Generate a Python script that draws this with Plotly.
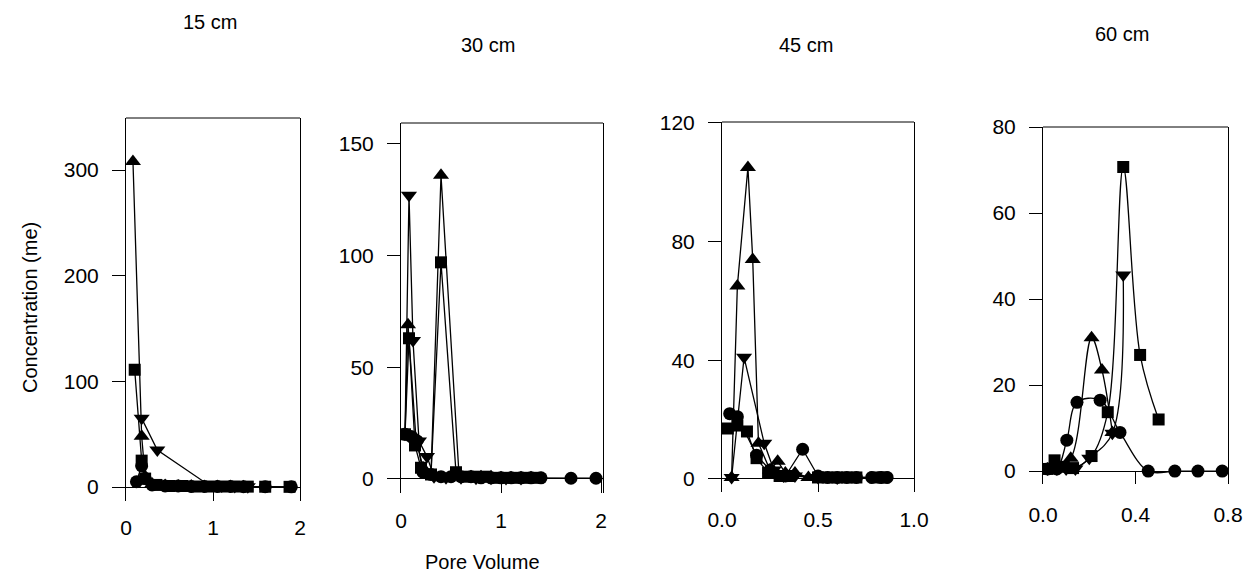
import plotly.graph_objects as go

# ---- datos (Pore Volume vs Concentration) ----
titulos = ['15 cm', '30 cm', '45 cm', '60 cm']

# 15 cm
p1_circ_x = [0.12, 0.18, 0.22, 0.3, 0.45, 0.6, 0.75, 0.9, 1.05, 1.2, 1.35, 1.6, 1.9]
p1_circ_y = [5, 20, 8, 2, 1, 1, 0.5, 0.5, 0.5, 0.5, 0.3, 0.3, 0.2]
p1_cuad_x = [0.1, 0.18, 0.22, 0.35, 0.5, 0.65, 0.8, 0.95, 1.1, 1.25, 1.4, 1.6, 1.88]
p1_cuad_y = [111, 25, 8, 2, 1, 1, 0.5, 0.5, 0.5, 0.5, 0.4, 0.3, 0.2]
p1_tri_x = [0.08, 0.18, 0.22, 0.3, 0.45, 0.6, 0.75, 0.9, 1.05, 1.2, 1.35]
p1_tri_y = [308, 48, 10, 3, 1.5, 1, 1, 0.5, 0.5, 0.5, 0.3]
p1_inv_x = [0.18, 0.36, 0.95, 1.1, 1.25, 1.4]
p1_inv_y = [65, 35, 2, 1, 0.5, 0.3]

# 30 cm
p2_circ_x = [0.04, 0.1, 0.16, 0.22, 0.3, 0.4, 0.5, 0.6, 0.7, 0.8, 0.9, 1.0, 1.1, 1.2, 1.3, 1.4, 1.7, 1.95]
p2_circ_y = [20, 19, 17, 3, 2, 1, 1, 1, 1, 0.5, 0.5, 0.5, 0.5, 0.5, 0.5, 0.5, 0.3, 0.3]
p2_cuad_x = [0.04, 0.08, 0.14, 0.2, 0.3, 0.4, 0.55, 0.65, 0.75, 0.85, 0.95, 1.05, 1.15, 1.25, 1.35]
p2_cuad_y = [20, 63, 15, 5, 2, 97, 3, 1, 1, 1, 0.5, 0.5, 0.5, 0.5, 0.5]
p2_tri_x = [0.04, 0.07, 0.15, 0.22, 0.3, 0.4, 0.58, 0.7, 0.8, 0.9, 1.0, 1.1, 1.2, 1.3]
p2_tri_y = [20, 69, 18, 5, 2, 136, 2, 1, 1, 1, 0.5, 0.5, 0.5, 0.5]
p2_inv_x = [0.04, 0.08, 0.12, 0.18, 0.26, 0.33, 0.45, 0.6, 0.75, 0.9, 1.05, 1.2]
p2_inv_y = [20, 127, 62, 17, 10, 1, 0.5, 0.5, 0.3, 0.3, 0.2, 0.2]

# 45 cm
p3_circ_x = [0.04, 0.08, 0.18, 0.25, 0.33, 0.42, 0.5, 0.55, 0.6, 0.65, 0.7, 0.78, 0.83, 0.86]
p3_circ_y = [22, 21, 8, 3, 1, 10, 1, 0.5, 0.5, 0.5, 0.5, 0.5, 0.5, 0.5]
p3_cuad_x = [0.03, 0.08, 0.13, 0.18, 0.24, 0.3, 0.35, 0.5, 0.55, 0.6, 0.65, 0.7, 0.8, 0.84]
p3_cuad_y = [17, 18, 16, 7, 2, 1, 1, 0.5, 0.5, 0.5, 0.5, 0.5, 0.5, 0.5]
p3_tri_x = [0.05, 0.08, 0.135, 0.16, 0.19, 0.25, 0.29, 0.33, 0.38, 0.45, 0.55]
p3_tri_y = [0.5, 65, 105, 74, 12, 3, 6, 2, 2, 0.5, 0.3]
p3_inv_x = [0.05, 0.115, 0.22, 0.27, 0.32, 0.38, 0.5, 0.6]
p3_inv_y = [0.5, 41, 12, 3, 1, 1, 0.5, 0.3]

# 60 cm
p4_circ_x = [0.02, 0.06, 0.103, 0.147, 0.247, 0.333, 0.455, 0.57, 0.67, 0.775]
p4_circ_y = [0.5, 0.5, 7.2, 16, 16.5, 9, 0, 0, 0, 0]
p4_cuad_x = [0.02, 0.05, 0.09, 0.13, 0.21, 0.28, 0.347, 0.42, 0.5]
p4_cuad_y = [0.5, 2.5, 1, 0.7, 3.5, 13.7, 70.7, 27, 12]
p4_tri_x = [0.02, 0.06, 0.12, 0.21, 0.255, 0.3]
p4_tri_y = [0.5, 1, 3, 31, 23.5, 9]
p4_inv_x = [0.02, 0.06, 0.1, 0.14, 0.2, 0.3, 0.347]
p4_inv_y = [0.5, 0.5, 0.5, 0.5, 3, 8.8, 45.6]

paneles = [
    [(p1_circ_x, p1_circ_y), (p1_cuad_x, p1_cuad_y), (p1_tri_x, p1_tri_y), (p1_inv_x, p1_inv_y)],
    [(p2_circ_x, p2_circ_y), (p2_cuad_x, p2_cuad_y), (p2_tri_x, p2_tri_y), (p2_inv_x, p2_inv_y)],
    [(p3_circ_x, p3_circ_y), (p3_cuad_x, p3_cuad_y), (p3_tri_x, p3_tri_y), (p3_inv_x, p3_inv_y)],
    [(p4_circ_x, p4_circ_y), (p4_cuad_x, p4_cuad_y), (p4_tri_x, p4_tri_y), (p4_inv_x, p4_inv_y)],
]

y_ticks = [[0, 100, 200, 300], [0, 50, 100, 150], [0, 40, 80, 120], [0, 20, 40, 60, 80]]
x_ticks = [[0, 1, 2], [0, 1, 2], [0.0, 0.5, 1.0], [0.0, 0.4, 0.8]]
x_fmt = ['d', 'd', '.1f', '.1f']

# ---- geometria (pixeles de la ventana; la pagina tiene 8 px de margen) ----
VW, VH = 1253, 582
M = 8
W, H = VW - 2 * M, VH - 2 * M


def px_x(p):
    return (p - M) / W


def px_y(p):
    return 1 - (p - M) / H


cajas = [(126, 300, 118, 501), (401, 603, 123, 493), (722, 914, 122, 492), (1043, 1228, 127, 484)]
y_rangos = [[-13.2, 349.2], [-6.3, 159.4], [-4.4, 120.3], [-3.0, 80]]
x_rangos = [[0, 2], [0, 2.02], [0, 1.0], [0, 0.8]]
x_standoff = [12, 13, 13, 16]
lineas = ['linear', 'linear', 'linear', 'spline']

simbolos = ['circle', 'square', 'triangle-up', 'triangle-down']
tamanos = [13, 12, 14, 14]

fuente = 'Liberation Sans, Arial, sans-serif'

fig = go.Figure()
layout = {}
shapes = []

for i, series in enumerate(paneles):
    n = '' if i == 0 else str(i + 1)
    for (xs, ys), sim, tam in zip(series, simbolos, tamanos):
        fig.add_trace(go.Scatter(
            x=xs, y=ys, mode='lines+markers',
            xaxis='x' + n, yaxis='y' + n,
            line=dict(color='black', width=1.3, shape=lineas[i]),
            marker=dict(symbol=sim, size=tam, color='black'),
            showlegend=False
        ))
    x0, x1, y0, y1 = cajas[i]
    layout['xaxis' + n] = dict(
        domain=[px_x(x0), px_x(x1)], anchor='y' + n,
        range=x_rangos[i], tickvals=x_ticks[i], tickformat=x_fmt[i],
        ticks='inside', ticklen=13, tickcolor='black', tickwidth=1,
        ticklabelstandoff=x_standoff[i], automargin=False,
        showline=False, showgrid=False, zeroline=False,
        tickfont=dict(size=21, color='black')
    )
    layout['yaxis' + n] = dict(
        domain=[px_y(y1), px_y(y0)], anchor='x' + n,
        range=y_rangos[i], tickvals=y_ticks[i],
        ticks='outside', ticklen=13, tickcolor='black', tickwidth=1,
        ticklabelstandoff=9, automargin=False,
        showline=True, linecolor='black', linewidth=1, mirror=True,
        showgrid=False, zeroline=True, zerolinecolor='black', zerolinewidth=1,
        tickfont=dict(size=21, color='black')
    )
    shapes.append(dict(
        type='line', xref='x' + n + ' domain', yref='y' + n + ' domain',
        x0=0, x1=1, y0=1, y1=1, line=dict(color='black', width=1)
    ))

titulo_pos = [(210, 22), (488, 45), (806, 45), (1122, 34)]
anotaciones = []
for t, (px, py) in zip(titulos, titulo_pos):
    anotaciones.append(dict(
        text=t, x=px_x(px), y=px_y(py), xref='paper', yref='paper',
        xanchor='center', yanchor='middle',
        showarrow=False, font=dict(size=20, color='black')
    ))
anotaciones.append(dict(
    text='Concentration (me)', x=px_x(30), y=px_y(308), xref='paper', yref='paper',
    xanchor='center', yanchor='middle',
    showarrow=False, textangle=-90, font=dict(size=20, color='black')
))
anotaciones.append(dict(
    text='Pore Volume', x=px_x(482), y=px_y(562), xref='paper', yref='paper',
    xanchor='center', yanchor='middle',
    showarrow=False, font=dict(size=20, color='black')
))

fig.update_layout(
    template='none',
    width=W, height=H,
    margin=dict(l=0, r=0, t=0, b=0),
    paper_bgcolor='white', plot_bgcolor='white',
    font=dict(family=fuente, size=20, color='black'),
    shapes=shapes, annotations=anotaciones,
    **layout
)

fig.write_html('out.html')
